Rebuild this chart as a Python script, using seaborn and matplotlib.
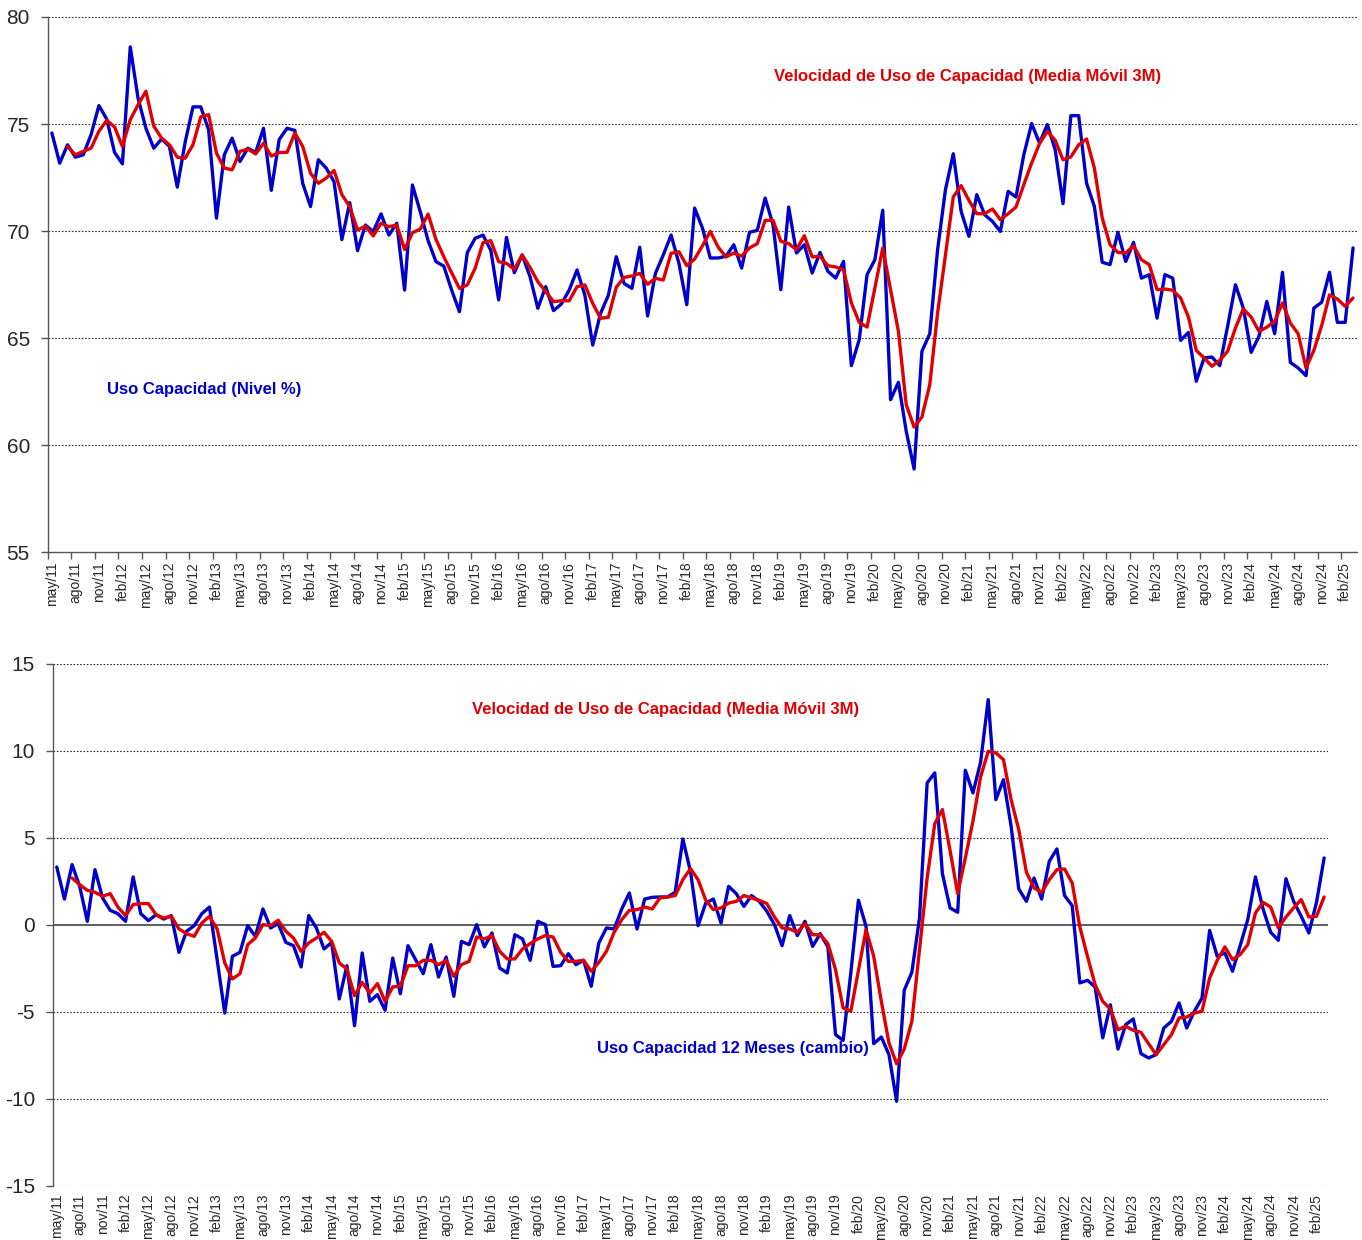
import numpy as np
import pandas as pd
import matplotlib
matplotlib.use("Agg")
import matplotlib.pyplot as plt
import seaborn as sns

# Monthly series, may/11 .. mar/25 (167 months)
start_year, start_month = 2011, 5
n_months = 167
meses = ['ene', 'feb', 'mar', 'abr', 'may', 'jun', 'jul', 'ago', 'sep', 'oct', 'nov', 'dic']

# Uso de capacidad, nivel %
nivel = [
    74.58, 73.17, 74.03, 73.45, 73.56, 74.5, 75.86, 75.23, 73.67, 73.14,
    78.6, 76.2, 74.8, 73.87, 74.3, 73.95, 72.05, 74.14, 75.8, 75.8,
    74.73, 70.6, 73.56, 74.34, 73.25, 73.87, 73.67, 74.8, 71.9, 74.27,
    74.8, 74.7, 72.23, 71.14, 73.33, 72.94, 72.3, 69.6, 71.33, 69.08,
    70.28, 69.97, 70.8, 69.81, 70.36, 67.24, 72.15, 70.9, 69.55, 68.57,
    68.36, 67.24, 66.23, 68.99, 69.66, 69.81, 69.1, 66.78, 69.7, 68.05,
    68.88, 67.87, 66.39, 67.4, 66.28, 66.59, 67.24, 68.18, 67.0, 64.67,
    66.15, 67.0, 68.8, 67.55, 67.32, 69.24, 66.03, 68.02, 68.88, 69.81,
    68.49, 66.56, 71.07, 70.14, 68.74, 68.74, 68.82, 69.36, 68.27, 69.94,
    70.03, 71.54, 70.3, 67.26, 71.12, 68.97, 69.36, 68.04, 69.0, 68.12,
    67.8, 68.58, 63.71, 64.92, 67.96, 68.66, 70.97, 62.12, 62.93, 60.64,
    58.88, 64.38, 65.2, 69.13, 71.93, 73.61, 70.92, 69.75, 71.7, 70.76,
    70.45, 69.98, 71.85, 71.59, 73.57, 75.02, 74.11, 74.97, 73.8, 71.28,
    75.39, 75.39, 72.24, 71.15, 68.54, 68.43, 69.94, 68.58, 69.47, 67.8,
    67.96, 65.93, 67.96, 67.8, 64.89, 65.26, 62.98, 64.07, 64.11, 63.71,
    65.55, 67.49, 66.4, 64.33, 65.08, 66.71, 65.2, 68.07, 63.86, 63.6,
    63.24, 66.4, 66.67, 68.07, 65.73, 65.73, 69.21,
]

# Velocidad de uso (media movil 3M) del nivel
nivel_mm3 = [
    np.nan, np.nan, 73.95, 73.56, 73.72, 73.87, 74.66, 75.17, 74.86, 73.95,
    75.2, 75.9, 76.53, 74.9, 74.34, 74.03, 73.45, 73.4, 74.03, 75.33,
    75.44, 73.64, 72.94, 72.86, 73.72, 73.83, 73.6, 74.1, 73.5, 73.67,
    73.67, 74.58, 73.95, 72.7, 72.23, 72.47, 72.83, 71.7, 71.14, 70.05,
    70.23, 69.77, 70.36, 70.2, 70.28, 69.14, 69.92, 70.09, 70.79, 69.61,
    68.8, 68.05, 67.32, 67.48, 68.26, 69.45, 69.55, 68.57, 68.49, 68.21,
    68.88, 68.3, 67.63, 67.17, 66.7, 66.74, 66.74, 67.4, 67.48, 66.62,
    65.92, 65.97, 67.37, 67.83, 67.9, 68.02, 67.51, 67.79, 67.71, 68.96,
    69.03, 68.38, 68.69, 69.31, 69.98, 69.25, 68.79, 68.97, 68.82, 69.21,
    69.41, 70.5, 70.5, 69.52, 69.41, 69.13, 69.78, 68.79, 68.82, 68.38,
    68.32, 68.19, 66.64, 65.73, 65.51, 67.34, 69.21, 67.26, 65.31, 61.88,
    60.84, 61.31, 62.82, 66.17, 68.89, 71.59, 72.12, 71.43, 70.81, 70.81,
    71.03, 70.53, 70.81, 71.12, 72.17, 73.18, 74.08, 74.66, 74.24, 73.33,
    73.46, 74.03, 74.3, 72.94, 70.61, 69.36, 69.0, 68.97, 69.31, 68.66,
    68.43, 67.26, 67.29, 67.23, 66.87, 65.98, 64.42, 64.07, 63.68, 63.96,
    64.38, 65.47, 66.36, 65.98, 65.31, 65.51, 65.78, 66.64, 65.7, 65.2,
    63.6, 64.42, 65.58, 67.02, 66.82, 66.48, 66.87,
]

# Uso de capacidad, cambio 12 meses
cambio = [
    3.33, 1.49, 3.47, 2.22, 0.21, 3.18, 1.55, 0.84, 0.65, 0.21,
    2.76, 0.65, 0.25, 0.59, 0.34, 0.54, -1.57, -0.36, -0.04, 0.65,
    1.03, -1.99, -5.06, -1.8, -1.57, -0.04, -0.65, 0.92, -0.17, 0.08,
    -1.0, -1.19, -2.41, 0.54, -0.17, -1.38, -1.0, -4.25, -2.34, -5.79,
    -1.61, -4.39, -4.0, -4.9, -1.9, -3.95, -1.19, -1.99, -2.8, -1.13,
    -2.99, -1.84, -4.1, -0.94, -1.13, 0.02, -1.26, -0.46, -2.47, -2.76,
    -0.56, -0.8, -2.03, 0.21, 0.02, -2.38, -2.34, -1.65, -2.28, -2.03,
    -3.52, -1.03, -0.17, -0.23, 0.92, 1.84, -0.23, 1.49, 1.59, 1.61,
    1.61, 1.88, 4.94, 3.08, -0.04, 1.26, 1.49, 0.11, 2.22, 1.8,
    1.07, 1.69, 1.36, 0.79, 0.02, -1.19, 0.54, -0.61, 0.21, -1.23,
    -0.5, -1.26, -6.3, -6.63, -2.76, 1.42, -0.08, -6.82, -6.44, -7.45,
    -10.13, -3.75, -2.72, 0.4, 8.16, 8.74, 2.95, 0.98, 0.73, 8.89,
    7.59, 9.35, 12.95, 7.2, 8.35, 5.67, 2.07, 1.36, 2.7, 1.49,
    3.66, 4.37, 1.69, 1.11, -3.33, -3.18, -3.56, -6.49, -4.58, -7.13,
    -5.73, -5.4, -7.39, -7.64, -7.45, -5.92, -5.54, -4.48, -5.92, -4.96,
    -4.2, -0.31, -1.8, -1.61, -2.66, -1.19, 0.31, 2.76, 0.92, -0.42,
    -0.88, 2.66, 1.36, 0.5, -0.46, 1.3, 3.85,
]

# Velocidad (media movil 3M) del cambio 12 meses
cambio_mm3 = [
    np.nan, np.nan, 2.7, 2.32, 1.99, 1.88, 1.65, 1.8, 1.03, 0.54,
    1.17, 1.23, 1.23, 0.59, 0.4, 0.5, -0.23, -0.5, -0.65, 0.11,
    0.5, -0.23, -2.18, -3.1, -2.8, -1.13, -0.75, 0.02, -0.04, 0.27,
    -0.36, -0.75, -1.51, -1.03, -0.75, -0.42, -0.94, -2.18, -2.53, -4.06,
    -3.3, -3.91, -3.37, -4.39, -3.56, -3.52, -2.34, -2.34, -2.03, -2.03,
    -2.28, -2.03, -2.95, -2.28, -2.09, -0.69, -0.8, -0.61, -1.51, -1.95,
    -1.95, -1.38, -1.07, -0.8, -0.61, -0.69, -1.57, -2.09, -2.09, -2.03,
    -2.66, -2.15, -1.51, -0.42, 0.31, 0.84, 0.88, 1.03, 0.92, 1.55,
    1.61, 1.69, 2.6, 3.24, 2.6, 1.42, 0.88, 0.98, 1.26, 1.36,
    1.69, 1.55, 1.42, 1.23, 0.46, -0.17, -0.23, -0.42, 0.08, -0.56,
    -0.56, -1.07, -2.57, -4.77, -4.96, -2.61, -0.27, -1.8, -4.39, -6.78,
    -7.97, -7.13, -5.54, -1.42, 2.7, 5.82, 6.63, 4.29, 1.8, 3.85,
    5.96, 8.51, 9.98, 9.89, 9.5, 7.2, 5.48, 3.03, 2.13, 1.88,
    2.6, 3.18, 3.22, 2.41, -0.11, -1.8, -3.43, -4.39, -4.83, -6.02,
    -5.82, -6.05, -6.17, -6.82, -7.45, -6.88, -6.3, -5.34, -5.29, -5.06,
    -4.96, -3.05, -2.03, -1.26, -1.99, -1.7, -1.13, 0.69, 1.3, 1.03,
    -0.17, 0.46, 0.98, 1.46, 0.46, 0.5, 1.61,
]

# month labels like "may/11"
etiquetas = []
for k in range(n_months):
    m = (start_month - 1 + k) % 12
    y = start_year + (start_month - 1 + k) // 12
    etiquetas.append(f"{meses[m]}/{y % 100:02d}")

df = pd.DataFrame({
    'idx': np.arange(n_months),
    'nivel': nivel,
    'nivel_mm3': nivel_mm3,
    'cambio': cambio,
    'cambio_mm3': cambio_mm3,
})

sns.set_style('white')
plt.rcParams['font.family'] = ['Liberation Sans', 'DejaVu Sans']

AZUL = '#0000cc'
ROJO = '#e00000'

fig = plt.figure(figsize=(13.62, 12.4), dpi=100)
ax1 = fig.add_axes([0.0352, 0.5548, 0.9611, 0.4315])
ax2 = fig.add_axes([0.0389, 0.04355, 0.9361, 0.4210])

lab_pos = np.arange(0, n_months, 3)
lab_txt = [etiquetas[i] for i in lab_pos]


def style_axis(ax, yticks, ylim, tick_marks, xpad):
    ax.set_xlim(-0.5, n_months - 0.5)
    ax.set_ylim(*ylim)
    ax.set_yticks(yticks)
    ax.set_yticklabels([str(v) for v in yticks], fontsize=15)
    ax.set_xticks(lab_pos)
    ax.set_xticklabels(lab_txt, rotation=90, fontsize=10)
    ax.tick_params(axis='x', length=0, pad=xpad)
    ax.tick_params(axis='y', length=5, width=1, direction='out', color='#555555', pad=8, left=True)
    if tick_marks:
        ax.set_xticks(np.arange(-0.5, n_months, 3), minor=True)
        ax.tick_params(axis='x', which='minor', length=5, width=1, direction='out',
                       color='#555555', bottom=True)
    ax.set_xlabel('')
    ax.set_ylabel('')
    for s in ['top', 'right']:
        ax.spines[s].set_visible(False)
    ax.spines['left'].set_color('#555555')
    ax.spines['left'].set_linewidth(1)


# ---- top panel: nivel ----
sns.lineplot(data=df, x='idx', y='nivel', ax=ax1, color=AZUL, linewidth=2.4, zorder=3)
sns.lineplot(data=df, x='idx', y='nivel_mm3', ax=ax1, color=ROJO, linewidth=2.4, zorder=4)
style_axis(ax1, [55, 60, 65, 70, 75, 80], (55, 80), True, 7)
for v in [60, 65, 70, 75, 80]:
    ax1.axhline(v, color='#333333', linewidth=0.8, linestyle=(0, (1.5, 1.5)), zorder=1)
ax1.spines['bottom'].set_color('#555555')
ax1.spines['bottom'].set_linewidth(1)

ax1.text(116.8, 77.24, 'Velocidad de Uso de Capacidad (Media Móvil 3M)', color=ROJO,
         fontsize=12, fontweight='bold', ha='center', va='center')
ax1.text(19.4, 62.6, 'Uso Capacidad (Nivel %)', color=AZUL,
         fontsize=12, fontweight='bold', ha='center', va='center')

# ---- bottom panel: cambio 12 meses ----
sns.lineplot(data=df, x='idx', y='cambio', ax=ax2, color=AZUL, linewidth=2.4, zorder=3)
sns.lineplot(data=df, x='idx', y='cambio_mm3', ax=ax2, color=ROJO, linewidth=2.4, zorder=4)
style_axis(ax2, [-15, -10, -5, 0, 5, 10, 15], (-15, 15), False, 5.5)
ax2.spines['bottom'].set_visible(False)
for v in [-15, -10, -5, 5, 10, 15]:
    ax2.axhline(v, color='#333333', linewidth=0.8, linestyle=(0, (1.5, 1.5)), zorder=1)
ax2.axhline(0, color='#333333', linewidth=1.1, zorder=2)

ax2.text(79.8, 12.36, 'Velocidad de Uso de Capacidad (Media Móvil 3M)', color=ROJO,
         fontsize=12, fontweight='bold', ha='center', va='center')
ax2.text(88.5, -7.07, 'Uso Capacidad 12 Meses (cambio)', color=AZUL,
         fontsize=12, fontweight='bold', ha='center', va='center', zorder=2)

fig.savefig('out.png', dpi=100, facecolor='white')
